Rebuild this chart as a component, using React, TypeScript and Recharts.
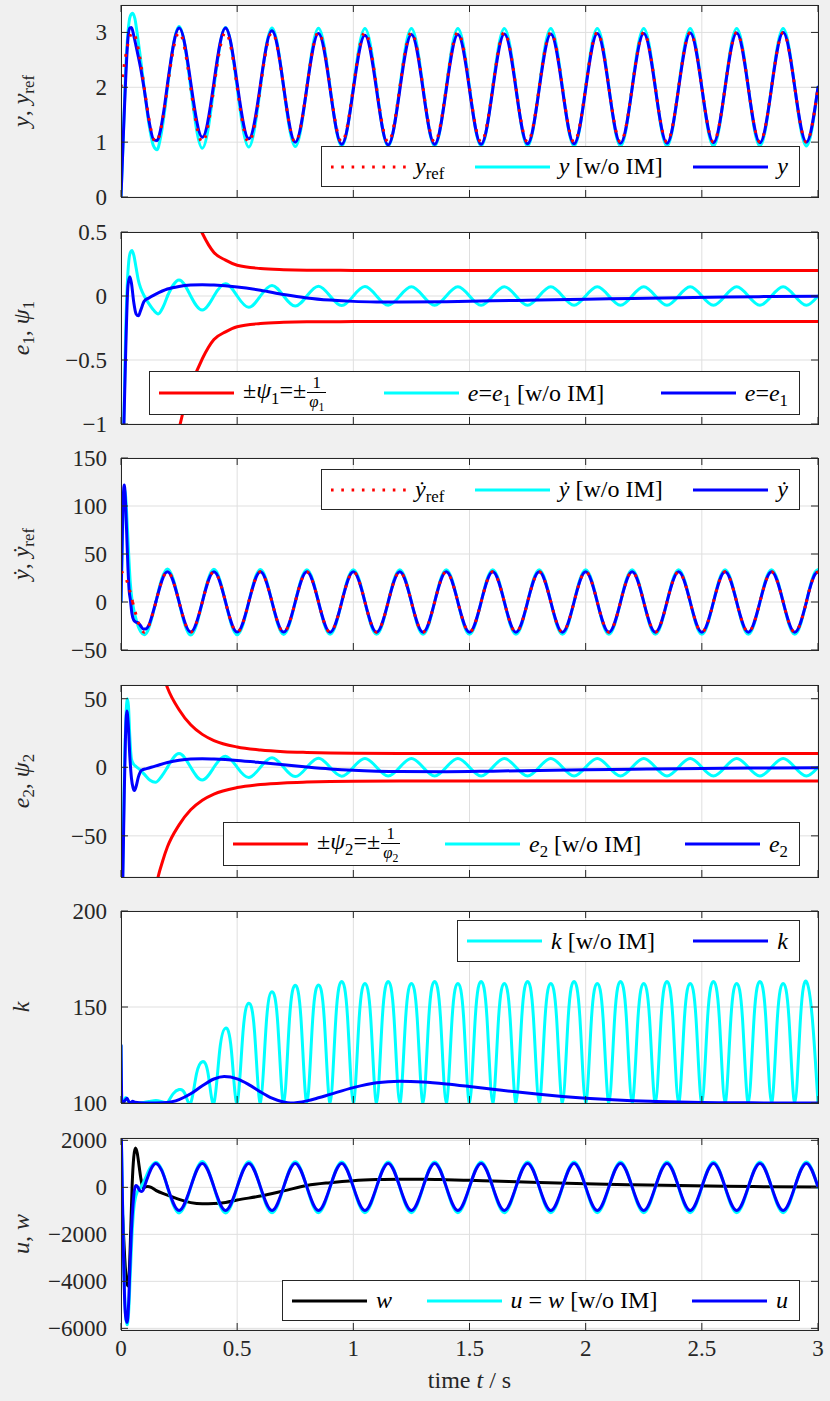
import React from "react";
import { CartesianGrid, Line, LineChart, XAxis, YAxis } from "recharts";

const N = null;

// quarter-period time grid (0.05 s)
const tq = [
  0, 0.05, 0.1, 0.15, 0.2, 0.25, 0.3, 0.35, 0.4, 0.45,
  0.5, 0.55, 0.6, 0.65, 0.7, 0.75, 0.8, 0.85, 0.9, 0.95,
  1, 1.05, 1.1, 1.15, 1.2, 1.25, 1.3, 1.35, 1.4, 1.45,
  1.5, 1.55, 1.6, 1.65, 1.7, 1.75, 1.8, 1.85, 1.9, 1.95,
  2, 2.05, 2.1, 2.15, 2.2, 2.25, 2.3, 2.35, 2.4, 2.45,
  2.5, 2.55, 2.6, 2.65, 2.7, 2.75, 2.8, 2.85, 2.9, 2.95,
  3,
];
const tTail = [2.95, 2.9625, 2.975, 2.9875, 3];

// k grid (0.025 s)
const tk = [
  0.2, 0.225, 0.25, 0.275, 0.3, 0.325, 0.35, 0.375,
  0.4, 0.425, 0.45, 0.475, 0.5, 0.525, 0.55, 0.575,
  0.6, 0.625, 0.65, 0.675, 0.7, 0.725, 0.75, 0.775,
  0.8, 0.825, 0.85, 0.875, 0.9, 0.925, 0.95, 0.975,
  1, 1.025, 1.05, 1.075, 1.1, 1.125, 1.15, 1.175,
  1.2, 1.225, 1.25, 1.275, 1.3, 1.325, 1.35, 1.375,
  1.4, 1.425, 1.45, 1.475, 1.5, 1.525, 1.55, 1.575,
  1.6, 1.625, 1.65, 1.675, 1.7, 1.725, 1.75, 1.775,
  1.8, 1.825, 1.85, 1.875, 1.9, 1.925, 1.95, 1.975,
  2, 2.025, 2.05, 2.075, 2.1, 2.125, 2.15, 2.175,
  2.2, 2.225, 2.25, 2.275, 2.3, 2.325, 2.35, 2.375,
  2.4, 2.425, 2.45, 2.475, 2.5, 2.525, 2.55, 2.575,
  2.6, 2.625, 2.65, 2.675, 2.7, 2.725, 2.75, 2.775,
  2.8, 2.825, 2.85, 2.875, 2.9, 2.925, 2.95, 2.975,
  3,
];

const xTicks = [0, 0.5, 1, 1.5, 2, 2.5, 3];

// ---- panel 1: y, y_ref ----
const y1Ticks = [0, 1, 2, 3];
const yRefQ = [
  2, 3, 2, 1, 2, 3, 2, 1, 2, 3,
  2, 1, 2, 3, 2, 1, 2, 3, 2, 1,
  2, 3, 2, 1, 2, 3, 2, 1, 2, 3,
  2, 1, 2, 3, 2, 1, 2, 3, 2, 1,
  2, 3, 2, 1, 2, 3, 2, 1, 2, 3,
  2, 1, 2, 3, 2, 1, 2, 3, 2, 1,
  2,
];
const yWoHeadT = [0, 0.01, 0.02, 0.03, 0.04, 0.05, 0.06, 0.07, 0.08, 0.1, 0.12, 0.14, 0.155, 0.17, 0.185, 0.2];
const yWoHeadV = [0, 1.1, 2.3, 3.0, 3.3, 3.35, 3.25, 2.97, 2.66, 1.98, 1.34, 0.93, 0.86, 1.08, 1.48, 2.0];
const yWoQ = [
  N, N, N, N, 2, 3.11, 2, 0.89, 2, 3.09,
  2, 0.91, 2, 3.08, 2, 0.92, 2, 3.075, 2, 0.93,
  2, 3.07, 2, 0.93, 2, 3.07, 2, 0.93, 2, 3.07,
  2, 0.93, 2, 3.07, 2, 0.93, 2, 3.07, 2, 0.93,
  2, 3.07, 2, 0.93, 2, 3.07, 2, 0.93, 2, 3.07,
  2, 0.93, 2, 3.07, 2, 0.93, 2, 3.07, 2, 0.93,
  2,
];
const yHeadT = [0, 0.01, 0.02, 0.03, 0.038, 0.045, 0.055, 0.065, 0.075, 0.085, 0.1, 0.12, 0.14, 0.155, 0.17, 0.185, 0.2];
const yHeadV = [0, 1.11, 2.14, 2.89, 3.08, 3.09, 2.94, 2.75, 2.55, 2.34, 1.96, 1.4, 1.05, 1.03, 1.22, 1.59, 2.06];
const yQ = [
  N, N, N, N, 2.06, 3.08, 2.09, 1.09, 2.09, 3.08,
  2.07, 1.06, 2.05, 3.03, 2.01, 1.0, 1.99, 2.98, 1.97, 0.96,
  1.96, 2.95, 1.95, 0.95, 1.95, 2.96, 1.96, 0.96, 1.96, 2.96,
  1.96, 0.96, 1.96, 2.97, 1.97, 0.97, 1.97, 2.97, 1.97, 0.97,
  1.97, 2.98, 1.98, 0.98, 1.98, 2.98, 1.98, 0.98, 1.98, 2.99,
  1.99, 0.99, 1.99, 2.99, 1.99, 0.99, 1.99, 3.0, 2.0, 1.0,
  2.0,
];

// ---- panel 2: e1, psi1 ----
const y2Ticks = [-1, -0.5, 0, 0.5];
const psi1T = [0.15, 0.2, 0.25, 0.3, 0.35, 0.4, 0.45, 0.5, 0.6, 0.7, 0.8, 0.9, 1, 1.2, 1.5, 2, 3];
const psi1Up = [2.4, 1.6, 1.04, 0.71, 0.49, 0.34, 0.28, 0.24, 0.215, 0.206, 0.202, 0.201, 0.2, 0.2, 0.2, 0.2, 0.2];
const psi1Lo = [-2.4, -1.6, -1.04, -0.71, -0.49, -0.34, -0.28, -0.24, -0.215, -0.206, -0.202, -0.201, -0.2, -0.2, -0.2, -0.2, -0.2];
const e1WoHeadT = [0, 0.01, 0.02, 0.03, 0.04, 0.047, 0.055, 0.065, 0.075, 0.085, 0.1, 0.12, 0.14, 0.16, 0.18, 0.2];
const e1WoHeadV = [-2, -1.2, -0.29, 0.19, 0.34, 0.355, 0.32, 0.22, 0.12, 0.06, 0.0, -0.06, -0.11, -0.14, -0.09, 0];
const e1WoQ = [
  N, N, N, N, 0, 0.125, 0, -0.11, 0, 0.095,
  0, -0.088, 0, 0.083, 0, -0.079, 0, 0.077, 0, -0.075,
  0, 0.074, 0, -0.073, 0, 0.072, 0, -0.072, 0, 0.072,
  0, -0.072, 0, 0.072, 0, -0.072, 0, 0.072, 0, -0.072,
  0, 0.072, 0, -0.072, 0, 0.072, 0, -0.072, 0, 0.072,
  0, -0.072, 0, 0.072, 0, -0.072, 0, 0.072, 0, -0.072,
  0,
];
const e1T = [
  0, 0.01, 0.02, 0.03, 0.038, 0.045, 0.055, 0.065, 0.075, 0.085,
  0.1, 0.12, 0.15, 0.2, 0.25, 0.3, 0.35, 0.4, 0.5, 0.6,
  0.7, 0.8, 0.9, 1, 1.1, 1.2, 1.4, 1.6, 1.8, 2,
  2.2, 2.4, 2.6, 2.8, 3,
];
const e1V = [
  -2, -1.2, -0.45, 0.08, 0.15, 0.1, -0.05, -0.14, -0.155, -0.11,
  -0.04, -0.015, 0.015, 0.055, 0.075, 0.085, 0.088, 0.085, 0.07, 0.045,
  0.012, -0.015, -0.032, -0.042, -0.046, -0.047, -0.044, -0.038, -0.031, -0.025,
  -0.019, -0.013, -0.008, -0.004, -0.002,
];

// ---- panel 3: dy, dy_ref ----
const y3Ticks = [-50, 0, 50, 100, 150];
const dyRefHeadT = [0, 0.0125, 0.025, 0.0375, 0.05];
const dyRefHeadV = [31.4, 29, 22.2, 12, 0];
const dyRefQ = [
  N, 0, -31.4, 0, 31.4, 0, -31.4, 0, 31.4, 0,
  -31.4, 0, 31.4, 0, -31.4, 0, 31.4, 0, -31.4, 0,
  31.4, 0, -31.4, 0, 31.4, 0, -31.4, 0, 31.4, 0,
  -31.4, 0, 31.4, 0, -31.4, 0, 31.4, 0, -31.4, 0,
  31.4, 0, -31.4, 0, 31.4, 0, -31.4, 0, 31.4, 0,
  -31.4, 0, 31.4, 0, -31.4, 0, 31.4, 0, -31.4, 0,
  N,
];
const dyRefTailV = [0, 12, 22.2, 29, 31.4];
const dyHeadT = [0, 0.005, 0.01, 0.014, 0.018, 0.024, 0.03, 0.035, 0.04, 0.047, 0.055, 0.065, 0.075, 0.085, 0.095, 0.105, 0.12, 0.135, 0.15];
const dyHeadV = [0, 62, 110, 122, 112, 75, 35, 12, 3, -12, -19, -21, -22, -25, -28, -28, -24, -13, 0];
const dyQ = [
  N, N, N, 0, 31.6, 0, -31.2, 0, 31.5, 0,
  -31.3, 0, 31.5, 0, -31.3, 0, 31.4, 0, -31.4, 0,
  31.4, 0, -31.4, 0, 31.4, 0, -31.4, 0, 31.4, 0,
  -31.4, 0, 31.4, 0, -31.4, 0, 31.4, 0, -31.4, 0,
  31.4, 0, -31.4, 0, 31.4, 0, -31.4, 0, 31.4, 0,
  -31.4, 0, 31.4, 0, -31.4, 0, 31.4, 0, -31.4, 0,
  N,
];
const dyTailV = [0, 12, 22.2, 29, 31.4];
const dyWoHeadT = [0, 0.005, 0.01, 0.015, 0.02, 0.027, 0.034, 0.04, 0.047, 0.055, 0.065, 0.075, 0.085, 0.1, 0.115, 0.13, 0.15];
const dyWoHeadV = [0, 55, 100, 118, 110, 80, 45, 20, 3, -8, -18, -26, -31, -34, -30, -19, 0];
const dyWoQ = [
  N, N, N, 0, 34.5, 0, -34.5, 0, 34.2, 0,
  -34, 0, 33.9, 0, -33.8, 0, 33.7, 0, -33.7, 0,
  33.7, 0, -33.7, 0, 33.7, 0, -33.7, 0, 33.7, 0,
  -33.7, 0, 33.7, 0, -33.7, 0, 33.7, 0, -33.7, 0,
  33.7, 0, -33.7, 0, 33.7, 0, -33.7, 0, 33.7, 0,
  -33.7, 0, 33.7, 0, -33.7, 0, 33.7, 0, -33.7, 0,
  N,
];
const dyWoTailV = [0, 12.9, 23.8, 31.1, 33.7];

// ---- panel 4: e2, psi2 ----
const y4Ticks = [-50, 0, 50];
const psi2T = [0.12, 0.15, 0.18, 0.2, 0.25, 0.3, 0.35, 0.4, 0.5, 0.6, 0.7, 0.8, 0.9, 1, 1.2, 1.5, 2, 3];
const psi2Up = [130, 88, 68, 58, 42, 31, 24, 19.5, 14.8, 12.6, 11.4, 10.8, 10.4, 10.2, 10.05, 10, 10, 10];
const psi2Lo = [-130, -88, -68, -58, -42, -31, -24, -19.5, -14.8, -12.6, -11.4, -10.8, -10.4, -10.2, -10.05, -10, -10, -10];
const e2WoHeadT = [0, 0.008, 0.015, 0.021, 0.027, 0.032, 0.038, 0.045, 0.055, 0.065, 0.08, 0.1, 0.125, 0.148, 0.175, 0.2];
const e2WoHeadV = [-140, -70, 0, 35, 50, 45, 22, 6, 2, 0.5, -1.5, -5, -9.5, -11, -6.5, 0];
const e2WoQ = [
  N, N, N, N, 0, 10, 0, -9.3, 0, 8,
  0, -7.4, 0, 7, 0, -6.8, 0, 6.6, 0, -6.5,
  0, 6.4, 0, -6.4, 0, 6.4, 0, -6.4, 0, 6.4,
  0, -6.4, 0, 6.4, 0, -6.4, 0, 6.4, 0, -6.4,
  0, 6.4, 0, -6.4, 0, 6.4, 0, -6.4, 0, 6.4,
  0, -6.4, 0, 6.4, 0, -6.4, 0, 6.4, 0, -6.4,
  0,
];
const e2T = [
  0, 0.008, 0.014, 0.019, 0.025, 0.031, 0.038, 0.045, 0.052, 0.058,
  0.065, 0.075, 0.09, 0.11, 0.13, 0.15, 0.2, 0.25, 0.3, 0.35,
  0.4, 0.5, 0.6, 0.7, 0.8, 0.9, 1, 1.1, 1.2, 1.4,
  1.6, 1.8, 2, 2.2, 2.4, 2.6, 2.8, 3,
];
const e2V = [
  -140, -80, -20, 20, 41, 32, 8, -8, -15, -17,
  -14, -7, -2, -1, 0, 1, 3.5, 5.2, 6.1, 6.3,
  6.0, 5.0, 3.5, 1.8, 0.2, -1.2, -2.2, -2.8, -3.1, -3.2,
  -2.8, -2.3, -1.8, -1.4, -1.0, -0.7, -0.45, -0.25,
];

// ---- panel 5: k ----
const y5Ticks = [100, 150, 200];
const kWoHeadT = [0, 0.004, 0.01, 0.02, 0.03, 0.04, 0.06, 0.09, 0.12, 0.15, 0.18, 0.2];
const kWoHeadV = [130, 101, 100.5, 102.8, 101.2, 100.3, 100, 100.2, 100.8, 101.3, 100.6, 100];
const kWoV = [
  100, 104.9, 107, 104.9, 100, 115.2, 121.5, 115.2,
  100, 127.6, 139, 127.6, 100, 136.8, 152, 136.8,
  100, 141, 158, 141, 100, 143.3, 161.3, 143.3,
  100, 143.5, 161.5, 143.5, 100, 144.8, 163.3, 144.8,
  100, 144, 162.3, 144, 100, 144.8, 163.3, 144.8,
  100, 144, 162.3, 144, 100, 144.8, 163.3, 144.8,
  100, 144, 162.3, 144, 100, 144.8, 163.3, 144.8,
  100, 144, 162.3, 144, 100, 144.8, 163.3, 144.8,
  100, 144, 162.3, 144, 100, 144.8, 163.3, 144.8,
  100, 144, 162.3, 144, 100, 144.8, 163.3, 144.8,
  100, 144, 162.3, 144, 100, 144.8, 163.3, 144.8,
  100, 144, 162.3, 144, 100, 144.8, 163.3, 144.8,
  100, 144, 162.3, 144, 100, 144.8, 163.3, 144.8,
  100, 144, 162.3, 144, 100, 144.8, 163.3, 144.8,
  100,
];
const kT = [
  0, 0.004, 0.01, 0.018, 0.026, 0.034, 0.042, 0.05, 0.06, 0.08,
  0.12, 0.18, 0.22, 0.25, 0.3, 0.35, 0.4, 0.444, 0.5, 0.55,
  0.6, 0.65, 0.7, 0.73, 0.8, 0.85, 0.9, 1, 1.1, 1.2,
  1.3, 1.4, 1.5, 1.6, 1.7, 1.8, 1.9, 2, 2.1, 2.2,
  2.3, 2.4, 2.5, 2.6, 2.8, 3,
];
const kV = [
  130, 101, 100.3, 101.5, 102.5, 100.6, 100.2, 100.9, 100.4, 100.1,
  100, 100.1, 100.7, 101.8, 104.8, 109, 112.5, 113.8, 112.6, 109.6,
  105.8, 102.5, 100.5, 100, 101.1, 102.7, 104.5, 108, 110.5, 111.3,
  110.9, 109.9, 108.6, 107.2, 105.8, 104.5, 103.4, 102.5, 101.8, 101.2,
  100.8, 100.5, 100.3, 100.15, 100.05, 100,
];

// ---- panel 6: u, w ----
const y6Ticks = [-6000, -4000, -2000, 0, 2000];
const wT = [
  0, 0.008, 0.016, 0.024, 0.03, 0.036, 0.042, 0.048, 0.055, 0.062,
  0.07, 0.078, 0.086, 0.095, 0.105, 0.115, 0.13, 0.15, 0.2, 0.25,
  0.3, 0.35, 0.4, 0.45, 0.5, 0.6, 0.7, 0.8, 0.9, 1,
  1.1, 1.2, 1.3, 1.4, 1.5, 1.6, 1.8, 2, 2.2, 2.4,
  2.6, 2.8, 3,
];
const wV = [
  0, -1400, -3000, -4000, -4200, -3500, -1800, 100, 1300, 1670,
  1450, 900, 350, -30, 20, 40, 0, -130, -330, -510,
  -650, -700, -690, -640, -540, -370, -150, 80, 200, 285,
  330, 350, 345, 325, 300, 270, 210, 155, 110, 75,
  45, 25, 10,
];
const uWoHeadT = [0, 0.005, 0.01, 0.015, 0.021, 0.027, 0.033, 0.04, 0.047, 0.055, 0.062, 0.07, 0.085, 0.1, 0.125, 0.15, 0.175, 0.2];
const uWoHeadV = [3000, 300, -2400, -4400, -5600, -5850, -5300, -3700, -2100, -900, -450, -200, 0, 280, 820, 1070, 760, 0];
const uWoQ = [
  N, N, N, N, 0, -1090, 0, 1100, 0, -1090,
  0, 1090, 0, -1085, 0, 1085, 0, -1080, 0, 1080,
  0, -1080, 0, 1080, 0, -1080, 0, 1080, 0, -1080,
  0, 1080, 0, -1080, 0, 1080, 0, -1080, 0, 1080,
  0, -1080, 0, 1080, 0, -1080, 0, 1080, 0, -1080,
  0, 1080, 0, -1080, 0, 1080, 0, -1080, 0, 1080,
  0,
];
const uHeadT = [0, 0.005, 0.01, 0.015, 0.02, 0.026, 0.032, 0.038, 0.045, 0.052, 0.058, 0.065, 0.072, 0.08, 0.088, 0.095, 0.105, 0.12, 0.135, 0.15, 0.175, 0.2];
const uHeadV = [3000, 200, -2600, -4600, -5500, -5750, -5100, -3500, -1800, -700, -100, 80, 20, -130, -180, -120, 150, 560, 880, 1015, 720, 20];
const uQ = [
  N, N, N, N, 20, -980, 20, 1020, 20, -980,
  20, 1020, 20, -980, 20, 1020, 20, -980, 20, 1020,
  20, -980, 20, 1020, 20, -980, 20, 1020, 20, -980,
  20, 1020, 20, -980, 20, 1020, 20, -980, 20, 1020,
  20, -980, 20, 1020, 20, -980, 20, 1020, 20, -980,
  20, 1020, 20, -980, 20, 1020, 20, -980, 20, 1020,
  20,
];

// ---- layout / style ----
const W = 830;
const PL = 121;
const PR = 818;
const PH = 192;
const MT = 22;
const AX = "#262626";
const FONT = "'Liberation Serif', 'DejaVu Serif', serif";
const RED = "#ff0000";
const CYAN = "#00ffff";
const BLUE = "#0000ff";
const BLACK = "#000000";
const DOTS = "2.6 7.7";

type Pt = { t: number; v: number | null };
const pts = (ts: number[], vs: (number | null)[]): Pt[] => ts.map((t, i) => ({ t, v: vs[i] }));

type Spec = { data: Pt[]; color: string; type: "monotone" | "natural"; dotted?: boolean };

const fmt = (v: number) => String(v).replace("-", "\u2212");

const M = ({ children }: { children: React.ReactNode }) => <span style={{ fontStyle: "italic" }}>{children}</span>;
const Sub = ({ children }: { children: React.ReactNode }) => (
  <span style={{ fontSize: "0.7em", position: "relative", top: "0.32em", fontStyle: "normal" }}>{children}</span>
);
const Frac = ({ children }: { children: React.ReactNode }) => (
  <span
    style={{
      display: "inline-flex",
      flexDirection: "column",
      alignItems: "center",
      fontSize: "0.7em",
      lineHeight: 1.0,
      verticalAlign: "middle",
      margin: "0 1px",
    }}
  >
    <span>1</span>
    <span style={{ borderTop: "1px solid #000", padding: "1px 2px 0" }}>{children}</span>
  </span>
);
const DOT_Y = "y\u0307";

const XTick = (props: any) => {
  const { x, y, payload, last } = props;
  return (
    <g>
      <line x1={x} y1={y} x2={x} y2={y - 7} stroke={AX} strokeWidth={1} />
      <line x1={x} y1={y - PH} x2={x} y2={y - PH + 7} stroke={AX} strokeWidth={1} />
      {last && (
        <text x={x} y={y + 26} textAnchor="middle" fill={AX} fontSize={23} fontFamily={FONT}>
          {fmt(payload.value)}
        </text>
      )}
    </g>
  );
};

const YTick = (props: any) => {
  const { y, payload } = props;
  return (
    <g>
      <line x1={PL} y1={y} x2={PL + 7} y2={y} stroke={AX} strokeWidth={1} />
      <line x1={PR} y1={y} x2={PR - 7} y2={y} stroke={AX} strokeWidth={1} />
      <text x={PL - 14} y={y} dy="0.35em" textAnchor="end" fill={AX} fontSize={23} fontFamily={FONT}>
        {fmt(payload.value)}
      </text>
    </g>
  );
};

type PanelProps = { top: number; domain: number[]; ticks: number[]; lines: Spec[]; last?: boolean };

const Panel = ({ top, domain, ticks, lines, last }: PanelProps) => {
  const xh = last ? 60 : 22;
  return (
    <div style={{ position: "absolute", left: 0, top: top - MT }}>
      <LineChart width={W} height={MT + PH + xh} margin={{ top: MT, right: W - PR, bottom: 0, left: 0 }}>
        <CartesianGrid stroke="#dfdfdf" fill="#ffffff" fillOpacity={1} />
        <XAxis
          dataKey="t"
          type="number"
          domain={[0, 3]}
          ticks={xTicks}
          allowDataOverflow
          height={xh}
          axisLine={false}
          tickLine={false}
          tickSize={0}
          tickMargin={0}
          interval={0}
          tick={(p: any) => <XTick {...p} last={last} />}
        />
        <YAxis
          type="number"
          domain={domain}
          ticks={ticks}
          allowDataOverflow
          width={PL}
          axisLine={false}
          tickLine={false}
          tickSize={0}
          tickMargin={0}
          interval={0}
          tick={(p: any) => <YTick {...p} />}
        />
        {lines.map((l, i) => (
          <Line
            key={i}
            data={l.data}
            dataKey="v"
            type={l.type}
            stroke={l.color}
            strokeWidth={3}
            strokeDasharray={l.dotted ? DOTS : undefined}
            strokeLinecap={l.dotted ? "butt" : "round"}
            dot={false}
            activeDot={false}
            legendType="none"
            isAnimationActive={false}
          />
        ))}
      </LineChart>
    </div>
  );
};

const panels: PanelProps[] = [
  {
    top: 5,
    domain: [0, 3.5],
    ticks: y1Ticks,
    lines: [
      { data: pts(yWoHeadT, yWoHeadV), color: CYAN, type: "monotone" },
      { data: pts(tq, yWoQ), color: CYAN, type: "natural" },
      { data: pts(yHeadT, yHeadV), color: BLUE, type: "monotone" },
      { data: pts(tq, yQ), color: BLUE, type: "natural" },
      { data: pts(tq, yRefQ), color: RED, type: "natural", dotted: true },
    ],
  },
  {
    top: 232,
    domain: [-1, 0.5],
    ticks: y2Ticks,
    lines: [
      { data: pts(psi1T, psi1Up), color: RED, type: "monotone" },
      { data: pts(psi1T, psi1Lo), color: RED, type: "monotone" },
      { data: pts(e1WoHeadT, e1WoHeadV), color: CYAN, type: "monotone" },
      { data: pts(tq, e1WoQ), color: CYAN, type: "natural" },
      { data: pts(e1T, e1V), color: BLUE, type: "monotone" },
    ],
  },
  {
    top: 458,
    domain: [-50, 150],
    ticks: y3Ticks,
    lines: [
      { data: pts(dyWoHeadT, dyWoHeadV), color: CYAN, type: "monotone" },
      { data: pts(tq, dyWoQ), color: CYAN, type: "natural" },
      { data: pts(tTail, dyWoTailV), color: CYAN, type: "monotone" },
      { data: pts(dyHeadT, dyHeadV), color: BLUE, type: "monotone" },
      { data: pts(tq, dyQ), color: BLUE, type: "natural" },
      { data: pts(tTail, dyTailV), color: BLUE, type: "monotone" },
      { data: pts(dyRefHeadT, dyRefHeadV), color: RED, type: "monotone", dotted: true },
      { data: pts(tq, dyRefQ), color: RED, type: "natural", dotted: true },
      { data: pts(tTail, dyRefTailV), color: RED, type: "monotone", dotted: true },
    ],
  },
  {
    top: 685,
    domain: [-80, 60],
    ticks: y4Ticks,
    lines: [
      { data: pts(psi2T, psi2Up), color: RED, type: "monotone" },
      { data: pts(psi2T, psi2Lo), color: RED, type: "monotone" },
      { data: pts(e2WoHeadT, e2WoHeadV), color: CYAN, type: "monotone" },
      { data: pts(tq, e2WoQ), color: CYAN, type: "natural" },
      { data: pts(e2T, e2V), color: BLUE, type: "monotone" },
    ],
  },
  {
    top: 911,
    domain: [100, 200],
    ticks: y5Ticks,
    lines: [
      { data: pts(kWoHeadT, kWoHeadV), color: CYAN, type: "monotone" },
      { data: pts(tk, kWoV), color: CYAN, type: "natural" },
      { data: pts(kT, kV), color: BLUE, type: "monotone" },
    ],
  },
  {
    top: 1138,
    domain: [-6070, 2100],
    ticks: y6Ticks,
    lines: [
      { data: pts(wT, wV), color: BLACK, type: "monotone" },
      { data: pts(uWoHeadT, uWoHeadV), color: CYAN, type: "monotone" },
      { data: pts(tq, uWoQ), color: CYAN, type: "natural" },
      { data: pts(uHeadT, uHeadV), color: BLUE, type: "monotone" },
      { data: pts(tq, uQ), color: BLUE, type: "natural" },
    ],
  },
];

type Item = { color: string; dotted?: boolean; label: React.ReactNode };
type LegendProps = { left: number; top: number; width: number; height: number; items: Item[] };

const LegendBox = ({ left, top, width, height, items }: LegendProps) => (
  <div
    style={{
      position: "absolute",
      left,
      top,
      width,
      height,
      boxSizing: "border-box",
      border: `1px solid ${AX}`,
      background: "#ffffff",
      display: "flex",
      alignItems: "center",
      justifyContent: "space-between",
      padding: "0 11px 0 9px",
      fontFamily: FONT,
      fontSize: 24,
      color: "#000",
      whiteSpace: "nowrap",
    }}
  >
    {items.map((it, i) => (
      <div key={i} style={{ display: "flex", alignItems: "center" }}>
        <svg width={75} height={10} style={{ display: "block" }}>
          <line x1={0} y1={5} x2={75} y2={5} stroke={it.color} strokeWidth={3} strokeDasharray={it.dotted ? DOTS : undefined} />
        </svg>
        <span style={{ marginLeft: 9 }}>{it.label}</span>
      </div>
    ))}
  </div>
);

const legends: LegendProps[] = [
  {
    left: 321, top: 146, width: 479, height: 41,
    items: [
      { color: RED, dotted: true, label: <><M>y</M><Sub>ref</Sub></> },
      { color: CYAN, label: <><M>y</M> [w/o IM]</> },
      { color: BLUE, label: <M>y</M> },
    ],
  },
  {
    left: 149, top: 371, width: 651, height: 44,
    items: [
      { color: RED, label: <>±<M>ψ</M><Sub>1</Sub>=±<Frac><M>φ</M><Sub>1</Sub></Frac></> },
      { color: CYAN, label: <><M>e</M>=<M>e</M><Sub>1</Sub> [w/o IM]</> },
      { color: BLUE, label: <><M>e</M>=<M>e</M><Sub>1</Sub></> },
    ],
  },
  {
    left: 321, top: 469, width: 479, height: 41,
    items: [
      { color: RED, dotted: true, label: <><M>{DOT_Y}</M><Sub>ref</Sub></> },
      { color: CYAN, label: <><M>{DOT_Y}</M> [w/o IM]</> },
      { color: BLUE, label: <M>{DOT_Y}</M> },
    ],
  },
  {
    left: 223, top: 822, width: 577, height: 44,
    items: [
      { color: RED, label: <>±<M>ψ</M><Sub>2</Sub>=±<Frac><M>φ</M><Sub>2</Sub></Frac></> },
      { color: CYAN, label: <><M>e</M><Sub>2</Sub> [w/o IM]</> },
      { color: BLUE, label: <><M>e</M><Sub>2</Sub></> },
    ],
  },
  {
    left: 457, top: 920, width: 343, height: 42,
    items: [
      { color: CYAN, label: <><M>k</M> [w/o IM]</> },
      { color: BLUE, label: <M>k</M> },
    ],
  },
  {
    left: 282, top: 1280, width: 518, height: 41,
    items: [
      { color: BLACK, label: <M>w</M> },
      { color: CYAN, label: <><M>u</M> = <M>w</M> [w/o IM]</> },
      { color: BLUE, label: <M>u</M> },
    ],
  },
];

const yLabels: React.ReactNode[] = [
  <><M>y</M>, <M>y</M><Sub>ref</Sub></>,
  <><M>e</M><Sub>1</Sub>, <M>ψ</M><Sub>1</Sub></>,
  <><M>{DOT_Y}</M>, <M>{DOT_Y}</M><Sub>ref</Sub></>,
  <><M>e</M><Sub>2</Sub>, <M>ψ</M><Sub>2</Sub></>,
  <M>k</M>,
  <><M>u</M>, <M>w</M></>,
];

export default function App() {
  return (
    <div
      style={{
        position: "absolute",
        left: 0,
        top: 0,
        width: 830,
        height: 1401,
        background: "#f0f0f0",
        overflow: "hidden",
      }}
    >
      {panels.map((p, i) => (
        <Panel key={i} {...p} last={i === panels.length - 1} />
      ))}
      {panels.map((p, i) => (
        <div
          key={"b" + i}
          style={{
            position: "absolute",
            left: PL,
            top: p.top,
            width: PR - PL + 1,
            height: PH + 1,
            boxSizing: "border-box",
            border: `1px solid ${AX}`,
            pointerEvents: "none",
          }}
        />
      ))}
      {legends.map((l, i) => (
        <LegendBox key={"l" + i} {...l} />
      ))}
      {panels.map((p, i) => (
        <div
          key={"y" + i}
          style={{
            position: "absolute",
            left: 21,
            top: p.top + PH / 2,
            transform: "translate(-50%, -50%) rotate(-90deg)",
            fontFamily: FONT,
            fontSize: 24,
            color: AX,
            whiteSpace: "nowrap",
          }}
        >
          {yLabels[i]}
        </div>
      ))}
      <div
        style={{
          position: "absolute",
          left: (PL + PR) / 2,
          top: 1380,
          transform: "translate(-50%, -50%)",
          fontFamily: FONT,
          fontSize: 24,
          color: AX,
          whiteSpace: "nowrap",
        }}
      >
        time <M>t</M> / s
      </div>
    </div>
  );
}
